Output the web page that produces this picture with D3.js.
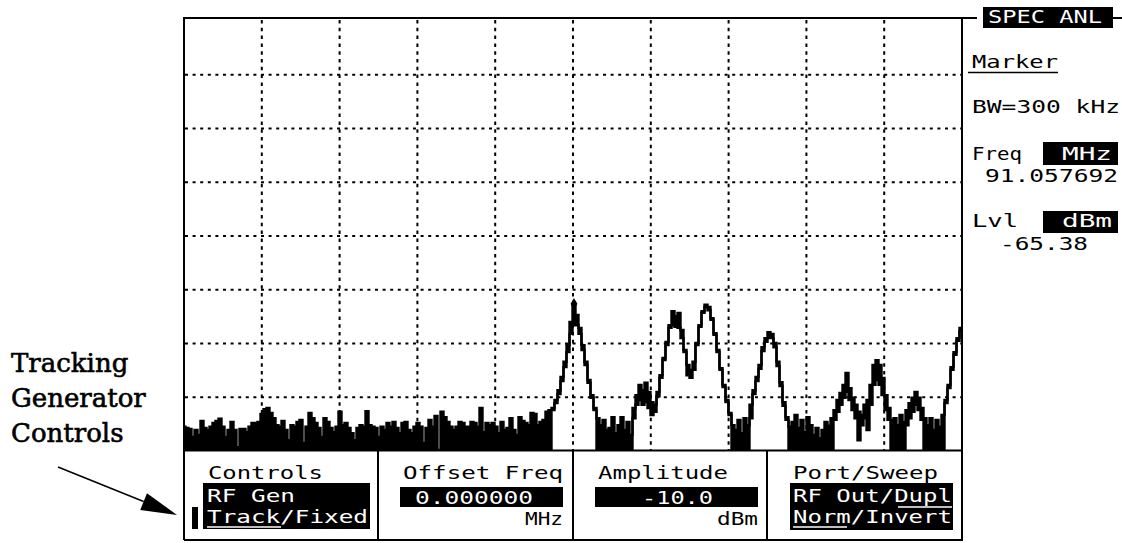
<!DOCTYPE html>
<html><head><meta charset="utf-8">
<script src="https://cdn.jsdelivr.net/npm/d3@7"></script>
<style>
html,body{margin:0;padding:0;background:#fff;}
svg{display:block;}
.mono{font-family:"DejaVu Sans Mono","Liberation Mono",monospace;font-size:18px;}
</style></head>
<body>
<svg id="chart" width="1122" height="543"></svg>
<script>
// ---------- DATA ----------
// Trace (dBm), peak-detected upper envelope, one sample per bucket
const traceUpper = [
-85.5,-85.7,-85.9,-87.4,-86.1,-87.0,-84.4,-85.7,-86.1,-85.5,
-84.8,-84.4,-84.0,-85.5,-87.4,-86.1,-84.6,-86.1,-89.3,-85.9,
-85.9,-86.5,-85.5,-84.8,-84.8,-84.6,-83.1,-82.2,-82.0,-82.9,
-83.9,-85.2,-85.5,-84.4,-86.1,-88.0,-85.2,-85.5,-84.6,-84.2,
-88.5,-85.5,-82.9,-83.9,-84.8,-85.7,-87.4,-83.9,-84.6,-85.7,
-86.5,-85.5,-82.7,-85.2,-84.8,-85.7,-86.7,-88.0,-85.7,-85.2,
-85.5,-82.6,-85.2,-85.5,-85.7,-87.4,-85.5,-86.1,-84.8,-85.5,
-84.6,-85.7,-86.7,-84.8,-84.6,-86.1,-86.7,-85.5,-84.8,-85.5,
-88.5,-85.7,-84.2,-85.5,-83.5,-89.8,-82.7,-83.7,-84.6,-85.5,
-86.1,-85.5,-84.6,-84.8,-85.5,-85.5,-84.6,-84.8,-85.5,-82.0,
-86.5,-84.8,-85.2,-84.8,-85.5,-86.7,-84.6,-86.1,-85.7,-83.9,
-86.1,-87.0,-83.7,-84.4,-84.8,-85.2,-82.9,-83.1,-85.2,-84.6,
-84.2,-82.7,-82.4,
-82.0,-80.5,-78.7,-76.2,-73.4,-70.3,-66.0,-62.8,-64.7,-67.1,-70.3,-73.4,-76.8,-79.6,-82.0,-83.9,
-85.2,-84.2,-86.1,-85.7,-83.7,-86.7,-85.2,-83.7,-86.1,-84.6,-87.0,
-82.0,-79.6,-77.7,-78.7,-77.3,-79.0,-80.9,-81.4,
-79.0,-75.9,-72.7,-69.7,-66.6,-64.0,-64.9,-64.3,-67.5,-71.2,-74.0,-74.9,-73.4,-69.9,-66.6,-64.0,-62.8,-63.2,-65.3,-68.1,-71.2,-74.6,-77.7,-80.5,-82.9,
-85.2,-86.1,-84.2,-86.7,-83.9,-85.2,
-81.4,
-78.7,-76.2,-74.0,-70.7,-69.0,-67.9,-68.2,-69.9,-73.4,-77.2,-80.9,-83.7,
-85.5,-84.6,-83.3,-85.7,-84.2,-86.5,-83.7,-85.2,-87.0,-85.7,-87.6,-86.1,-84.6,-85.3,-83.9,
-82.4,-80.5,-79.2,-77.7,-75.5,-78.3,-80.1,-81.4,-82.7,-83.3,-81.4,-80.5,-77.7,-74.0,-73.1,-74.0,-76.4,-79.6,-82.0,
-84.2,-83.9,-85.2,-83.3,-84.6,
-82.4,-81.1,-80.1,-79.0,-80.1,-82.0,
-83.9,-85.2,-83.9,-86.1,-84.2,-85.5,-83.3,
-80.5,-77.7,-74.4,-71.6,-69.0,-67.1
];
// Lower envelope (dBm) of the same buckets
const traceLower = [
-90,-90,-90,-90,-90,-90,-90,-90,-90,-90,
-90,-90,-90,-90,-90,-90,-90,-90,-90,-90,
-90,-90,-90,-90,-90,-90,-90,-90,-90,-90,
-90,-90,-90,-90,-90,-90,-90,-90,-90,-90,
-90,-90,-90,-90,-90,-90,-90,-90,-90,-90,
-90,-90,-90,-90,-90,-90,-90,-90,-90,-90,
-90,-90,-90,-90,-90,-90,-90,-90,-90,-90,
-90,-90,-90,-90,-90,-90,-90,-90,-90,-90,
-90,-90,-90,-90,-90,-90,-90,-90,-90,-90,
-90,-90,-90,-90,-90,-90,-90,-90,-90,-90,
-90,-90,-90,-90,-90,-90,-90,-90,-90,-90,
-90,-90,-90,-90,-90,-90,-90,-90,-90,-90,
-90,-90,-90,
-82.4,-81.1,-79.4,-77.0,-74.4,-71.6,-68.2,-66.6,-66.6,-68.2,-71.2,-74.0,-77.3,-80.1,-82.4,-90,
-90,-90,-90,-90,-90,-90,-90,-90,-90,-90,-90,
-83.9,-81.4,-80.5,-81.4,-80.9,-82.0,-83.3,-82.7,
-79.8,-76.4,-73.1,-70.3,-67.1,-66.6,-66.9,-67.1,-69.0,-71.6,-75.9,-76.4,-74.9,-70.3,-66.9,-64.3,-63.2,-63.8,-65.6,-68.4,-71.6,-74.9,-78.1,-80.9,-83.3,
-90,-90,-90,-90,-90,-90,
-83.9,
-79.4,-77.0,-74.7,-71.4,-69.7,-69.0,-69.0,-70.7,-74.2,-77.9,-81.6,-84.2,
-90,-90,-90,-90,-90,-90,-90,-90,-90,-90,-90,-90,-90,-90,-90,
-84.2,-82.7,-81.4,-80.1,-79.0,-80.5,-82.4,-83.9,-88.0,-85.2,-83.9,-86.1,-81.4,-77.7,-76.8,-77.7,-79.6,-82.4,-84.2,
-90,-90,-90,-90,-90,
-85.2,-83.9,-82.7,-81.4,-82.4,-84.2,
-90,-90,-90,-90,-90,-90,-90,
-81.1,-78.3,-74.9,-72.1,-69.5,-67.7
];
const markerIndex = 130;
const levelRange = [-90, -10];       // bottom / top of graticule, dBm
const gridLevels = [-80, -70, -60, -50, -40, -30, -20];
const gridDivisions = [1, 2, 3, 4, 5, 6, 7, 8, 9];

const screenTitle = "SPEC ANL";
const sideLabels = ["Marker", "BW=300 kHz", "Freq", "MHz", "91.057692", "Lvl", "dBm", "-65.38"];
const fieldTitles = ["Controls", "Offset Freq", "Amplitude", "Port/Sweep"];
const fieldValues = [["RF Gen", "Track/Fixed"], ["0.000000"], ["-10.0"], ["RF Out/Dupl", "Norm/Invert"]];
const fieldUnits = ["", "MHz", "dBm", ""];
const calloutLines = ["Tracking", "Generator", "Controls"];

// ---------- DRAW ----------
const svg = d3.select("#chart");
const L = 184, R = 962, T = 18, B = 451;
const x = d3.scaleLinear().domain([0, 778 / 3]).range([L, R]);
const y = d3.scaleLinear().domain(levelRange).range([B, 21]);
const gx = d3.scaleLinear().domain([0, 10]).range([L, R]);

svg.append("rect").attr("width", 1122).attr("height", 543).attr("fill", "#fff");

svg.append("defs").append("clipPath").attr("id", "plotClip")
  .append("rect").attr("x", L).attr("y", T).attr("width", R - L).attr("height", B - T);

// graticule
const grid = svg.append("g").attr("stroke", "#000").attr("stroke-width", 2);
grid.selectAll("line.v").data(gridDivisions).join("line").attr("class", "v")
  .attr("x1", d => gx(d)).attr("x2", d => gx(d)).attr("y1", T + 2).attr("y2", 450)
  .attr("stroke-dasharray", "3.5,4.3");
grid.selectAll("line.h").data(gridLevels).join("line").attr("class", "h")
  .attr("x1", L + 1).attr("x2", R - 1).attr("y1", d => y(d)).attr("y2", d => y(d))
  .attr("stroke-dasharray", "3,4.6");

// trace
const idx = d3.range(traceUpper.length);
const tg = svg.append("g").attr("clip-path", "url(#plotClip)");
tg.append("path").datum(idx)
  .attr("d", d3.area().curve(d3.curveStep).x(i => x(i)).y0(i => y(traceLower[i])).y1(i => y(traceUpper[i])))
  .attr("fill", "#000");
tg.append("path").datum(idx)
  .attr("d", d3.line().curve(d3.curveStep).x(i => x(i)).y(i => y(traceUpper[i])))
  .attr("fill", "none").attr("stroke", "#000").attr("stroke-width", 2.4);
tg.append("path").datum(idx)
  .attr("d", d3.line().curve(d3.curveStep).x(i => x(i)).y(i => y(traceLower[i])))
  .attr("fill", "none").attr("stroke", "#000").attr("stroke-width", 2.4);
// marker
tg.append("path")
  .attr("transform", `translate(${x(markerIndex)},${y(traceUpper[markerIndex]) - 1})`)
  .attr("d", d3.symbol(d3.symbolDiamond, 40)()).attr("fill", "#000");

// frame
const frame = svg.append("g").attr("stroke", "#000").attr("stroke-width", 2).attr("fill", "none");
frame.append("path").attr("d", `M${L - 1},${T} H977 M1113,${T} H1122`);
frame.append("path").attr("d", `M${L},${T} V540 M${R},${T} V540 M${L},540 H${R + 1} M${L},450.5 H${R}`);
[378, 573, 767].forEach(v => frame.append("line").attr("x1", v).attr("x2", v).attr("y1", 450).attr("y2", 540));

// text helper
function mtext(s, x0, yb, w, fill) {
  return svg.append("text").attr("class", "mono").attr("x", x0).attr("y", yb)
    .attr("textLength", w).attr("lengthAdjust", "spacingAndGlyphs")
    .attr("fill", fill || "#000").text(s);
}
function blk(x0, y0, w, h) {
  svg.append("rect").attr("x", x0).attr("y", y0).attr("width", w).attr("height", h).attr("fill", "#000");
}
function uline(x1, x2, yy, col) {
  svg.append("line").attr("x1", x1).attr("x2", x2).attr("y1", yy).attr("y2", yy)
    .attr("stroke", col || "#000").attr("stroke-width", 1.6);
}

// title box
blk(983, 7, 130, 21);
mtext(screenTitle, 988, 23, 114, "#fff");

// side panel
mtext(sideLabels[0], 972, 68, 86); uline(968, 1058, 72.5);
mtext(sideLabels[1], 972, 113, 148);
mtext(sideLabels[2], 972, 160, 50);
blk(1043, 142, 75, 23); mtext(sideLabels[3], 1062, 160, 50, "#fff");
mtext(sideLabels[4], 985, 182, 133);
mtext(sideLabels[5], 972, 227, 46);
blk(1043, 211, 75, 22); mtext(sideLabels[6], 1062, 227, 50, "#fff");
mtext(sideLabels[7], 1000, 250, 88);

// bottom fields
mtext(fieldTitles[0], 208, 479, 115);
blk(203, 483, 167, 46);
mtext(fieldValues[0][0], 207, 502, 88, "#fff");
mtext(fieldValues[0][1], 207, 523, 161, "#fff");
uline(207, 281, 527, "#fff");
blk(192, 507, 6, 22);

mtext(fieldTitles[1], 403, 479, 160);
blk(400, 487, 163, 20);
mtext(fieldValues[1][0], 415, 504, 118, "#fff");
mtext(fieldUnits[1], 525, 525, 38);

mtext(fieldTitles[2], 598, 479, 130);
blk(595, 487, 163, 20);
mtext(fieldValues[2][0], 642, 504, 71, "#fff");
mtext(fieldUnits[2], 717, 525, 41);

mtext(fieldTitles[3], 793, 479, 145);
blk(790, 483, 163, 47);
mtext(fieldValues[3][0], 793, 502, 159, "#fff");
uline(898, 952, 507, "#fff");
mtext(fieldValues[3][1], 793, 523, 159, "#fff");
uline(793, 847, 527, "#fff");

// callout
const co = svg.append("g").attr("font-family", "'DejaVu Serif', 'Liberation Serif', serif")
  .attr("font-size", 26).attr("fill", "#000").attr("stroke", "#000").attr("stroke-width", 0.6);
calloutLines.forEach((s, k) => co.append("text").attr("x", 11).attr("y", 372 + k * 35).text(s));
const ax0 = 58, ay0 = 467, ax1 = 177, ay1 = 515;
const ang = Math.atan2(ay1 - ay0, ax1 - ax0);
const hl = 36, hw = 9;
const bx = ax1 - hl * Math.cos(ang), by = ay1 - hl * Math.sin(ang);
svg.append("line").attr("x1", ax0).attr("y1", ay0).attr("x2", bx).attr("y2", by)
  .attr("stroke", "#000").attr("stroke-width", 1.5);
svg.append("path").attr("d",
  `M${ax1},${ay1} L${bx + hw * Math.sin(ang)},${by - hw * Math.cos(ang)} L${bx - hw * Math.sin(ang)},${by + hw * Math.cos(ang)} Z`)
  .attr("fill", "#000");
</script>
</body></html>
